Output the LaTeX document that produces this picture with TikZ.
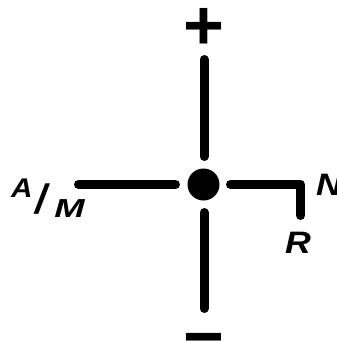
\documentclass[tikz,border=0pt]{standalone}
\usepackage{fontspec}
\setmainfont{Liberation Sans}
\begin{document}
\begin{tikzpicture}[x=1pt,y=1pt,
  bar/.style={line width=9pt,line cap=round,line join=round,black},
  lbl/.style={inner sep=0pt,anchor=base west,font=\bfseries\itshape},
  sign/.style={inner sep=0pt,anchor=center,font=\bfseries\fontsize{70}{70}\selectfont}]
\useasboundingbox (0,0) rectangle (337,-341);
\fill[white] (0,0) rectangle (337,-341);
% centre dot
\node[circle,fill=black,minimum size=32pt,inner sep=0pt] (dot) at (203.5,-184.5) {};
\coordinate (t1) at (204,-59.5);
\coordinate (t2) at (204,-156.5);
\coordinate (b1) at (204,-212.5);
\coordinate (b2) at (204,-308.5);
\coordinate (l1) at (78.5,-184.5);
\coordinate (l2) at (175.5,-184.5);
\coordinate (r1) at (230.5,-184.5);
\coordinate (rc) at (300.5,-184.5);
\coordinate (r2) at (300.5,-215.5);
\draw[bar] (t1) -- (t2);
\draw[bar] (b1) -- (b2);
\draw[bar] (l1) -- (l2);
\draw[bar] (r1) -- (rc) -- (r2);
% signs
\node[sign] (plus) at (203.5,-28.9) {+};
\node[sign] (minus) at (203.5,-347.4) {−};
% labels
\node[lbl,xscale=1.1,font=\bfseries\itshape\fontsize{27}{27}\selectfont] (A) at (11,-197) {A};
\node[lbl,font=\bfseries\itshape\fontsize{41}{41}\selectfont] (slash) at (35,-213) {/};
\node[lbl,xscale=1.4,font=\bfseries\itshape\fontsize{26}{26}\selectfont] (M) at (54,-217) {M};
\node[lbl,xscale=1.15,font=\bfseries\itshape\fontsize{31}{31}\selectfont] (N) at (316,-195) {N};
\node[lbl,xscale=1.15,font=\bfseries\itshape\fontsize{31}{31}\selectfont] (R) at (285,-253) {R};
\end{tikzpicture}
\end{document}
